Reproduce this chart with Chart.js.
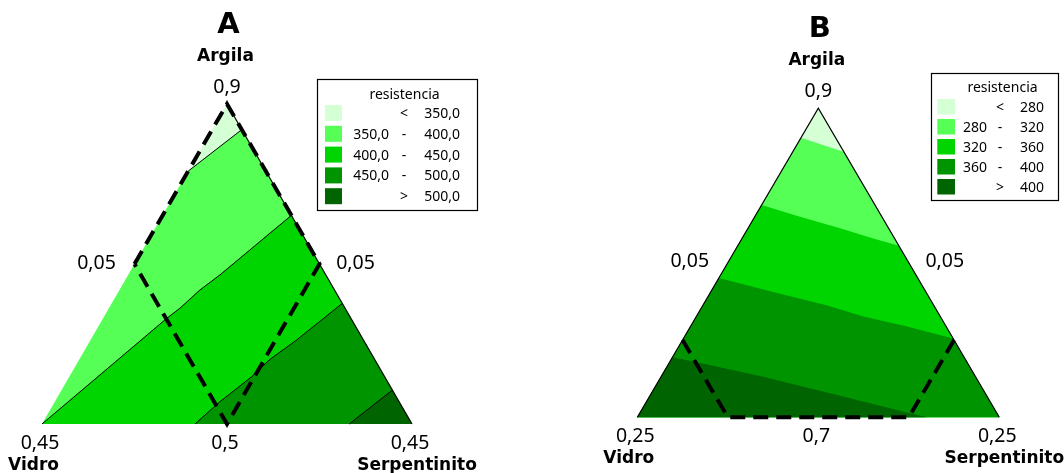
<!DOCTYPE html>
<html>
<head>
<meta charset="utf-8">
<script src="https://cdn.jsdelivr.net/npm/chart.js@4.4.1/dist/chart.umd.min.js"></script>
<style>
  html, body { margin: 0; padding: 0; background: #fff; }
  #wrap { position: relative; width: 1064px; height: 473px; overflow: hidden; }
  canvas { position: absolute; top: 0; }
  #cA { left: 0; }
  #cB { left: 532px; }
</style>
</head>
<body>
<div id="wrap">
  <canvas id="cA" width="532" height="473"></canvas>
  <canvas id="cB" width="532" height="473"></canvas>
</div>
<script>
// Resistance bands, lowest to highest
const bandColors = ['#d5ffd5', '#55ff55', '#00d500', '#009500', '#006500'];
const cornerNames = ['Argila', 'Vidro', 'Serpentinito'];
const legendTitle = 'resistencia';

// ---- Panel A ----
const panelTitleA = 'A';
const levelsA = [350, 400, 450, 500];
// contour lines as [argila, serpentinito] pseudo-component pairs
const isoA350 = [[0.79, 0], [0.92, 0.08]];
const isoA400 = [[0, 0], [0.33, 0.172], [0.362, 0.192], [0.419, 0.2175], [0.466, 0.248], [0.544, 0.29], [0.652, 0.348]];
const isoA450 = [[0, 0.4135], [0.0697, 0.446], [0.148, 0.493], [0.202, 0.515], [0.2625, 0.557], [0.377, 0.623]];
const isoA500 = [[0, 0.8305], [0.106, 0.894]];
const regionA = [[0.5, 0], [1, 0], [0.5, 0.5], [0, 0.5], [0.5, 0]];
// apex, left mid, right mid, bottom left, bottom mid, bottom right
const tickLabelsA = ['0,9', '0,05', '0,05', '0,45', '0,5', '0,45'];

// ---- Panel B ----
const panelTitleB = 'B';
const levelsB = [280, 320, 360, 400];
const isoB280 = [[0.905, 0], [0.892, 0.0394], [0.867, 0.117], [0.8595, 0.1405]];
const isoB320 = [[0.687, 0], [0.649, 0.125], [0.612, 0.254], [0.579, 0.3625], [0.555, 0.445]];
const isoB360 = [[0.451, 0], [0.401, 0.191], [0.363, 0.3415], [0.326, 0.4615], [0.2955, 0.592], [0.255, 0.745]];
const isoB400 = [[0.194, 0], [0.164, 0.137], [0.131, 0.282], [0.078, 0.4935], [0.024, 0.705], [0, 0.7994]];
const regionB = [[0.25, 0], [0, 0.25], [0, 0.75], [0.25, 0.75]];
const tickLabelsB = ['0,9', '0,05', '0,05', '0,25', '0,7', '0,25'];

// Triangle corners in [argila, serpentinito]
const APEX = [1, 0], VIDRO = [0, 0], SERP = [0, 1];

function toXY(p) { return { x: p[1] + p[0] / 2, y: p[0] }; }
function path(pts) { return pts.map(toXY); }

const REG = "'Noto Sans', 'DejaVu Sans', sans-serif";
const BOLD = "'DejaVu Sans', 'Noto Sans', sans-serif";

function buildDatasets(cfg) {
  const ds = [];
  ds.push({ data: path([APEX, VIDRO, SERP]), fill: 'shape', backgroundColor: bandColors[0],
            borderWidth: 0, order: 30 });
  cfg.contours.forEach((c, k) => {
    ds.push({ data: path(c.line.concat(c.corners)), fill: 'shape', backgroundColor: bandColors[k + 1],
              borderWidth: 0, order: 29 - k });
    if (cfg.contourWidth) {
      ds.push({ data: path(c.line), fill: false, borderColor: '#000', borderWidth: cfg.contourWidth, order: 5 });
    }
  });
  cfg.edges.forEach(e => {
    ds.push({ data: path(e), fill: false, borderColor: '#000', borderWidth: 1.2, order: 4 });
  });
  ds.push({ data: path(cfg.region), fill: false, borderColor: '#000', borderWidth: 4,
            borderDash: [15, 8], order: 1 });
  return ds;
}

function fmtA(v) { return v.toFixed(1).replace('.', ','); }
function fmtB(v) { return String(v); }

function legendRows(levels, fmt) {
  const rows = [['', '<', fmt(levels[0])]];
  for (let i = 0; i < levels.length - 1; i++) rows.push([fmt(levels[i]), '-', fmt(levels[i + 1])]);
  rows.push(['', '>', fmt(levels[levels.length - 1])]);
  return rows;
}

const labelPlugin = {
  id: 'ternaryLabels',
  afterDraw(chart) {
    const o = chart.options.plugins.ternaryLabels;
    const ctx = chart.ctx;
    const xs = chart.scales.x, ys = chart.scales.y;
    const px = p => { const q = toXY(p); return { x: xs.getPixelForValue(q.x), y: ys.getPixelForValue(q.y) }; };
    const apex = px(APEX), vid = px(VIDRO), ser = px(SERP);
    const lm = px([0.5, 0]), rm = px([0.5, 0.5]), bm = px([0, 0.5]);
    ctx.save();
    ctx.fillStyle = '#000';
    ctx.textBaseline = 'alphabetic';
    ctx.textAlign = 'center';
    // panel letter and corner names
    ctx.font = `bold 29px ${BOLD}`;
    ctx.fillText(o.title, apex.x + 1.5, apex.y - 71);
    ctx.font = `bold 17px ${BOLD}`;
    ctx.fillText(cornerNames[0], apex.x - 1.5, apex.y - 43);
    ctx.fillText(cornerNames[1], vid.x - 8.5, vid.y + 46);
    ctx.fillText(cornerNames[2], ser.x + 5, ser.y + 46);
    // component bounds
    ctx.font = `19.5px ${REG}`;
    const t = o.ticks;
    ctx.fillText(t[0], apex.x, apex.y - 11.5);
    ctx.fillText(t[1], lm.x - 38, lm.y + 4.5);
    ctx.fillText(t[2], rm.x + 36, rm.y + 4.5);
    ctx.fillText(t[3], vid.x - 2, vid.y + 25);
    ctx.fillText(t[4], bm.x - 2, bm.y + 25);
    ctx.fillText(t[5], ser.x - 2, ser.y + 25);
    // legend
    const L = o.legend;
    ctx.fillStyle = '#fff';
    ctx.fillRect(L.x, L.y, L.w, L.h);
    ctx.strokeStyle = '#000';
    ctx.lineWidth = 1.2;
    ctx.strokeRect(Math.round(L.x) + 0.5, Math.round(L.y) + 0.5, Math.round(L.w), Math.round(L.h));
    ctx.fillStyle = '#000';
    ctx.font = `${L.fs}px ${REG}`;
    ctx.textAlign = 'center';
    ctx.fillText(legendTitle, L.titleX, L.titleY);
    o.rows.forEach((r, i) => {
      const top = L.rowTop + i * L.pitch;
      ctx.fillStyle = bandColors[i];
      ctx.fillRect(L.swX, top, L.swW, L.swH);
      const base = top + L.swH / 2 + 0.357 * L.fs;
      ctx.fillStyle = '#000';
      ctx.textAlign = 'right';
      if (r[0]) ctx.fillText(r[0], L.leftX, base);
      ctx.textAlign = 'center';
      ctx.fillText(r[1], L.symX, base);
      ctx.textAlign = 'right';
      ctx.fillText(r[2], L.rightX, base);
    });
    ctx.restore();
  }
};

function makeChart(id, cfg) {
  // place the unit triangle at the given canvas pixels
  const W = 532, H = 473;
  const xPer = cfg.baseRight - cfg.baseLeft;
  const yPer = cfg.baseY - cfg.apexY;
  const xmin = -cfg.baseLeft / xPer, xmax = xmin + W / xPer;
  const ymax = 1 + cfg.apexY / yPer, ymin = ymax - H / yPer;
  return new Chart(document.getElementById(id), {
    type: 'line',
    data: { datasets: buildDatasets(cfg) },
    options: {
      responsive: false,
      animation: false,
      devicePixelRatio: 1,
      events: [],
      layout: { padding: 0 },
      elements: {
        point: { radius: 0 },
        line: { tension: 0, borderJoinStyle: 'miter', borderCapStyle: 'butt' }
      },
      plugins: {
        legend: { display: false },
        tooltip: { enabled: false },
        ternaryLabels: { title: cfg.title, ticks: cfg.ticks, legend: cfg.legend, rows: cfg.rows }
      },
      scales: {
        x: { type: 'linear', display: false, min: xmin, max: xmax },
        y: { type: 'linear', display: false, min: ymin, max: ymax }
      }
    },
    plugins: [labelPlugin]
  });
}

makeChart('cA', {
  title: panelTitleA,
  baseLeft: 42, baseRight: 412, baseY: 424, apexY: 104,
  contours: [
    { line: isoA350, corners: [SERP, VIDRO] },
    { line: isoA400, corners: [SERP] },
    { line: isoA450, corners: [SERP] },
    { line: isoA500, corners: [SERP] }
  ],
  contourWidth: 1,
  edges: [[APEX, SERP]],
  region: regionA,
  ticks: tickLabelsA,
  rows: legendRows(levelsA, fmtA),
  legend: { x: 317, y: 79, w: 160, h: 131, fs: 14, titleX: 404.5, titleY: 99, 
            swX: 325, swW: 17, swH: 16, rowTop: 105, pitch: 20.8,
            leftX: 389, symX: 404, rightX: 460 }
});

makeChart('cB', {
  title: panelTitleB,
  baseLeft: 105.3, baseRight: 467.3, baseY: 417.3, apexY: 108.3,
  contours: [
    { line: isoB280, corners: [SERP, VIDRO] },
    { line: isoB320, corners: [SERP, VIDRO] },
    { line: isoB360, corners: [SERP, VIDRO] },
    { line: isoB400, corners: [VIDRO] }
  ],
  contourWidth: 0,
  edges: [[VIDRO, APEX, SERP]],
  region: regionB,
  ticks: tickLabelsB,
  rows: legendRows(levelsB, fmtB),
  legend: { x: 398.7, y: 73.3, w: 126.6, h: 127.4, fs: 14, titleX: 470.5, titleY: 92,
            swX: 405.3, swW: 17.7, swH: 15.5, rowTop: 99, pitch: 20,
            leftX: 455, symX: 468, rightX: 512 }
});
</script>
</body>
</html>
